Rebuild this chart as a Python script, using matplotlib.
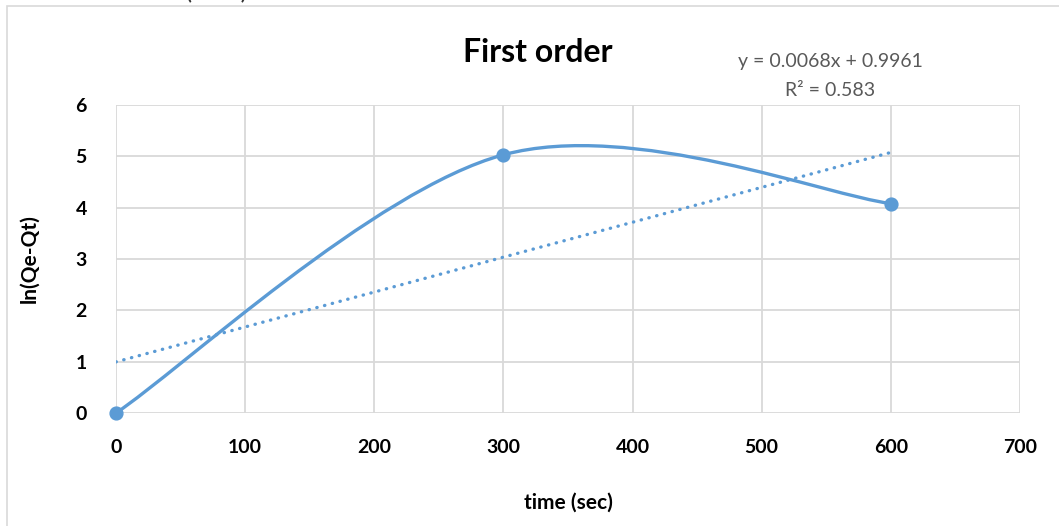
import numpy as np
import matplotlib.pyplot as plt
from matplotlib.path import Path
from matplotlib.patches import PathPatch, Rectangle

plt.rcParams['font.family'] = ['Lato', 'DejaVu Sans']

# data
time_sec = [0, 300, 600]
ln_qe_qt = [0, 5.03, 4.08]
slope, intercept = 0.0068, 0.9961
eq_text = 'y = 0.0068x + 0.9961'
r2_text = 'R² = 0.583'
x_ticks = [0, 100, 200, 300, 400, 500, 600, 700]
y_ticks = [0, 1, 2, 3, 4, 5, 6]

blue = '#5B9BD5'
grid_c = '#D9D9D9'

fig = plt.figure(figsize=(10.59, 5.26), dpi=100)
# outer chart frame
fig.patches.append(Rectangle((7 / 1059, -0.1), 1.2, 1 - 6 / 526 + 0.1, transform=fig.transFigure,
                             fill=False, edgecolor=grid_c, linewidth=1.2))
# document text above the chart, mostly cropped away
fig.text(35 / 1059, 1 - 3 / 526, 'second order (PSO) model.', fontsize=18, color='#333333',
         va='bottom', ha='left')

ax = fig.add_axes([116 / 1059, 1 - 413 / 526, (1020 - 116) / 1059, (413 - 105) / 526])
ax.set_xlim(0, 700)
ax.set_ylim(0, 6)
ax.set_xticks(x_ticks)
ax.set_yticks(y_ticks)
for s in ax.spines.values():
    s.set_visible(False)
ax.grid(True, color=grid_c, linewidth=1.3)
ax.set_axisbelow(True)
ax.tick_params(length=0, labelsize=14)
for lab in ax.get_xticklabels() + ax.get_yticklabels():
    lab.set_fontweight('bold')
ax.tick_params(axis='y', pad=21)
ax.tick_params(axis='x', pad=19)

# smoothed line (Excel-style bezier)
pts = np.column_stack([time_sec, ln_qe_qt]).astype(float)
ext = np.vstack([pts[0], pts, pts[-1]])
verts = [tuple(pts[0])]
codes = [Path.MOVETO]
for i in range(len(pts) - 1):
    p0, p1, p2, p3 = ext[i], ext[i + 1], ext[i + 2], ext[i + 3]
    c1 = p1 + (p2 - p0) / 6
    c2 = p2 - (p3 - p1) / 6
    verts += [tuple(c1), tuple(c2), tuple(p2)]
    codes += [Path.CURVE4] * 3
ax.add_patch(PathPatch(Path(verts, codes), fill=False, edgecolor=blue, linewidth=2.4,
                       clip_on=False, zorder=3))
ax.scatter(time_sec, ln_qe_qt, s=85, color=blue, zorder=4, clip_on=False)

# linear trendline
tx = np.array([time_sec[0], time_sec[-1]])
ax.plot(tx, slope * tx + intercept, linestyle=(0, (0.1, 2.3)), color=blue, linewidth=2.4,
        dash_capstyle='round', zorder=3)

ax.set_xlabel('time (sec)', fontsize=15, fontweight='bold', labelpad=26)
ax.set_ylabel('ln(Qe-Qt)', fontsize=15, fontweight='bold', labelpad=26)

fig.text(538 / 1059, 1 - 52 / 526, 'First order', fontsize=23, fontweight='bold', ha='center', va='center')
fig.text(830 / 1059, 1 - 61 / 526, eq_text, fontsize=14, color='#595959', ha='center', va='center')
fig.text(830 / 1059, 1 - 90 / 526, r2_text, fontsize=14, color='#595959', ha='center', va='center')

fig.savefig('out.png', dpi=100)
